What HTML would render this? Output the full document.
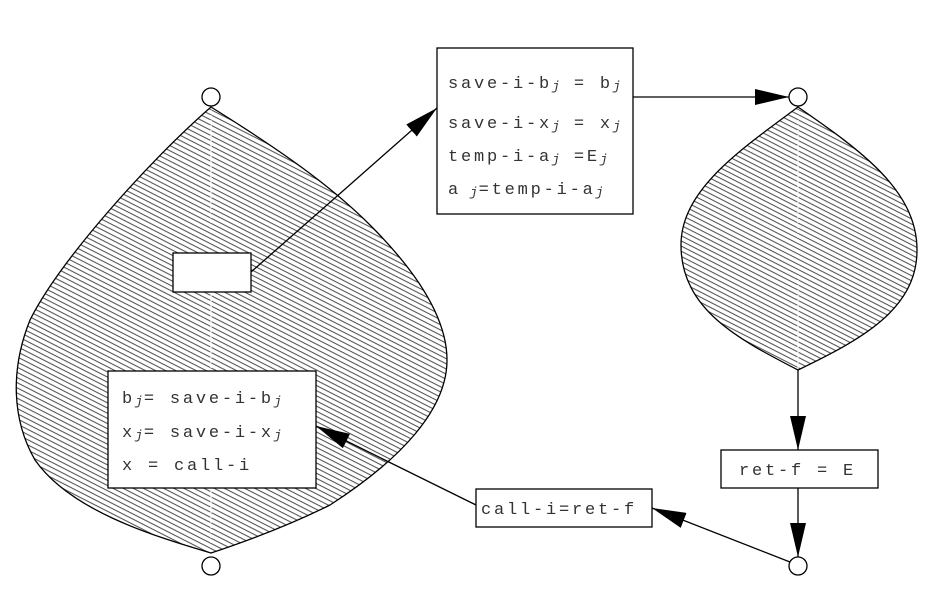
<!DOCTYPE html>
<html><head><meta charset="utf-8"><style>
html,body{margin:0;padding:0;background:#fff}
svg{display:block}
text{font-family:"Liberation Mono",monospace;font-size:17px;fill:#333;letter-spacing:2.8px}
.s{font-style:italic;font-size:13px;letter-spacing:1px}
</style></head><body>
<svg width="940" height="606" viewBox="0 0 940 606">
<defs>
<pattern id="hatch" patternUnits="userSpaceOnUse" width="10" height="4.6" patternTransform="rotate(27)">
<line x1="0" y1="2" x2="10" y2="2" stroke="#333" stroke-width="0.9"/>
</pattern>
<marker id="ah" markerWidth="34" markerHeight="16" refX="34" refY="8" orient="auto" markerUnits="userSpaceOnUse">
<path d="M0,0 L34,8 L0,16 Z" fill="#000"/>
</marker>
</defs>
<g>
<path d="M211,107 C150,160 60,260 30,320 C10,370 12,420 35,460 C70,510 150,535 211,553 C250,540 290,525 330,505 C400,460 447,410 447,360 C447,320 420,275 370,225 C330,185 280,150 211,107 Z" fill="url(#hatch)" stroke="#000" stroke-width="1.3"/>
<line x1="211" y1="110" x2="211" y2="552" stroke="#fff" stroke-width="1.2" stroke-dasharray="3,2"/>
</g>
<g>
<path d="M798,107 C740,150 681,190 681,245 C681,310 740,340 798,370 C860,340 917,310 917,250 C917,190 860,150 798,107 Z" fill="url(#hatch)" stroke="#000" stroke-width="1.3"/>
<line x1="798" y1="110" x2="798" y2="368" stroke="#fff" stroke-width="1.2" stroke-dasharray="3,2"/>
</g>
<g fill="#fff" stroke="#000" stroke-width="1.3">
<circle cx="211" cy="97" r="9"/>
<circle cx="211" cy="566" r="9"/>
<circle cx="798" cy="97" r="9"/>
<circle cx="798" cy="566" r="9"/>
</g>
<g stroke="#000" stroke-width="1.3" fill="none">
<line x1="251" y1="272" x2="437" y2="108" marker-end="url(#ah)"/>
<line x1="633" y1="97" x2="789" y2="97" marker-end="url(#ah)"/>
<line x1="798" y1="370" x2="798" y2="450" marker-end="url(#ah)"/>
<line x1="798" y1="488" x2="798" y2="557" marker-end="url(#ah)"/>
<line x1="790" y1="562" x2="652" y2="508" marker-end="url(#ah)"/>
<line x1="476" y1="505" x2="316" y2="426" marker-end="url(#ah)"/>
</g>
<rect x="173" y="253" width="78" height="39" fill="#fff" stroke="#000" stroke-width="1.3"/>
<g>
<rect x="437" y="48" width="196" height="166" fill="#fff" stroke="#000" stroke-width="1.3"/>
<text x="448" y="88">save-i-b<tspan class="s" dy="2">j</tspan><tspan dy="-2"> = b</tspan><tspan class="s" dy="2">j</tspan></text>
<text x="448" y="128">save-i-x<tspan class="s" dy="2">j</tspan><tspan dy="-2"> = x</tspan><tspan class="s" dy="2">j</tspan></text>
<text x="448" y="161">temp-i-a<tspan class="s" dy="2">j</tspan><tspan dy="-2"> =E</tspan><tspan class="s" dy="2">j</tspan></text>
<text x="448" y="194">a<tspan class="s" dy="2"> j</tspan><tspan dy="-2">=temp-i-a</tspan><tspan class="s" dy="2">j</tspan></text>
</g>
<g>
<rect x="108" y="371" width="208" height="117" fill="#fff" stroke="#000" stroke-width="1.3"/>
<text x="122" y="403">b<tspan class="s" dy="2">j</tspan><tspan dy="-2">= save-i-b</tspan><tspan class="s" dy="2">j</tspan></text>
<text x="122" y="437">x<tspan class="s" dy="2">j</tspan><tspan dy="-2">= save-i-x</tspan><tspan class="s" dy="2">j</tspan></text>
<text x="122" y="470">x = call-i</text>
</g>
<g>
<rect x="721" y="450" width="157" height="38" fill="#fff" stroke="#000" stroke-width="1.3"/>
<text x="739" y="475">ret-f = E</text>
</g>
<g>
<rect x="476" y="489" width="176" height="38" fill="#fff" stroke="#000" stroke-width="1.3"/>
<text x="481" y="514">call-i=ret-f</text>
</g>
</svg>
</body></html>
